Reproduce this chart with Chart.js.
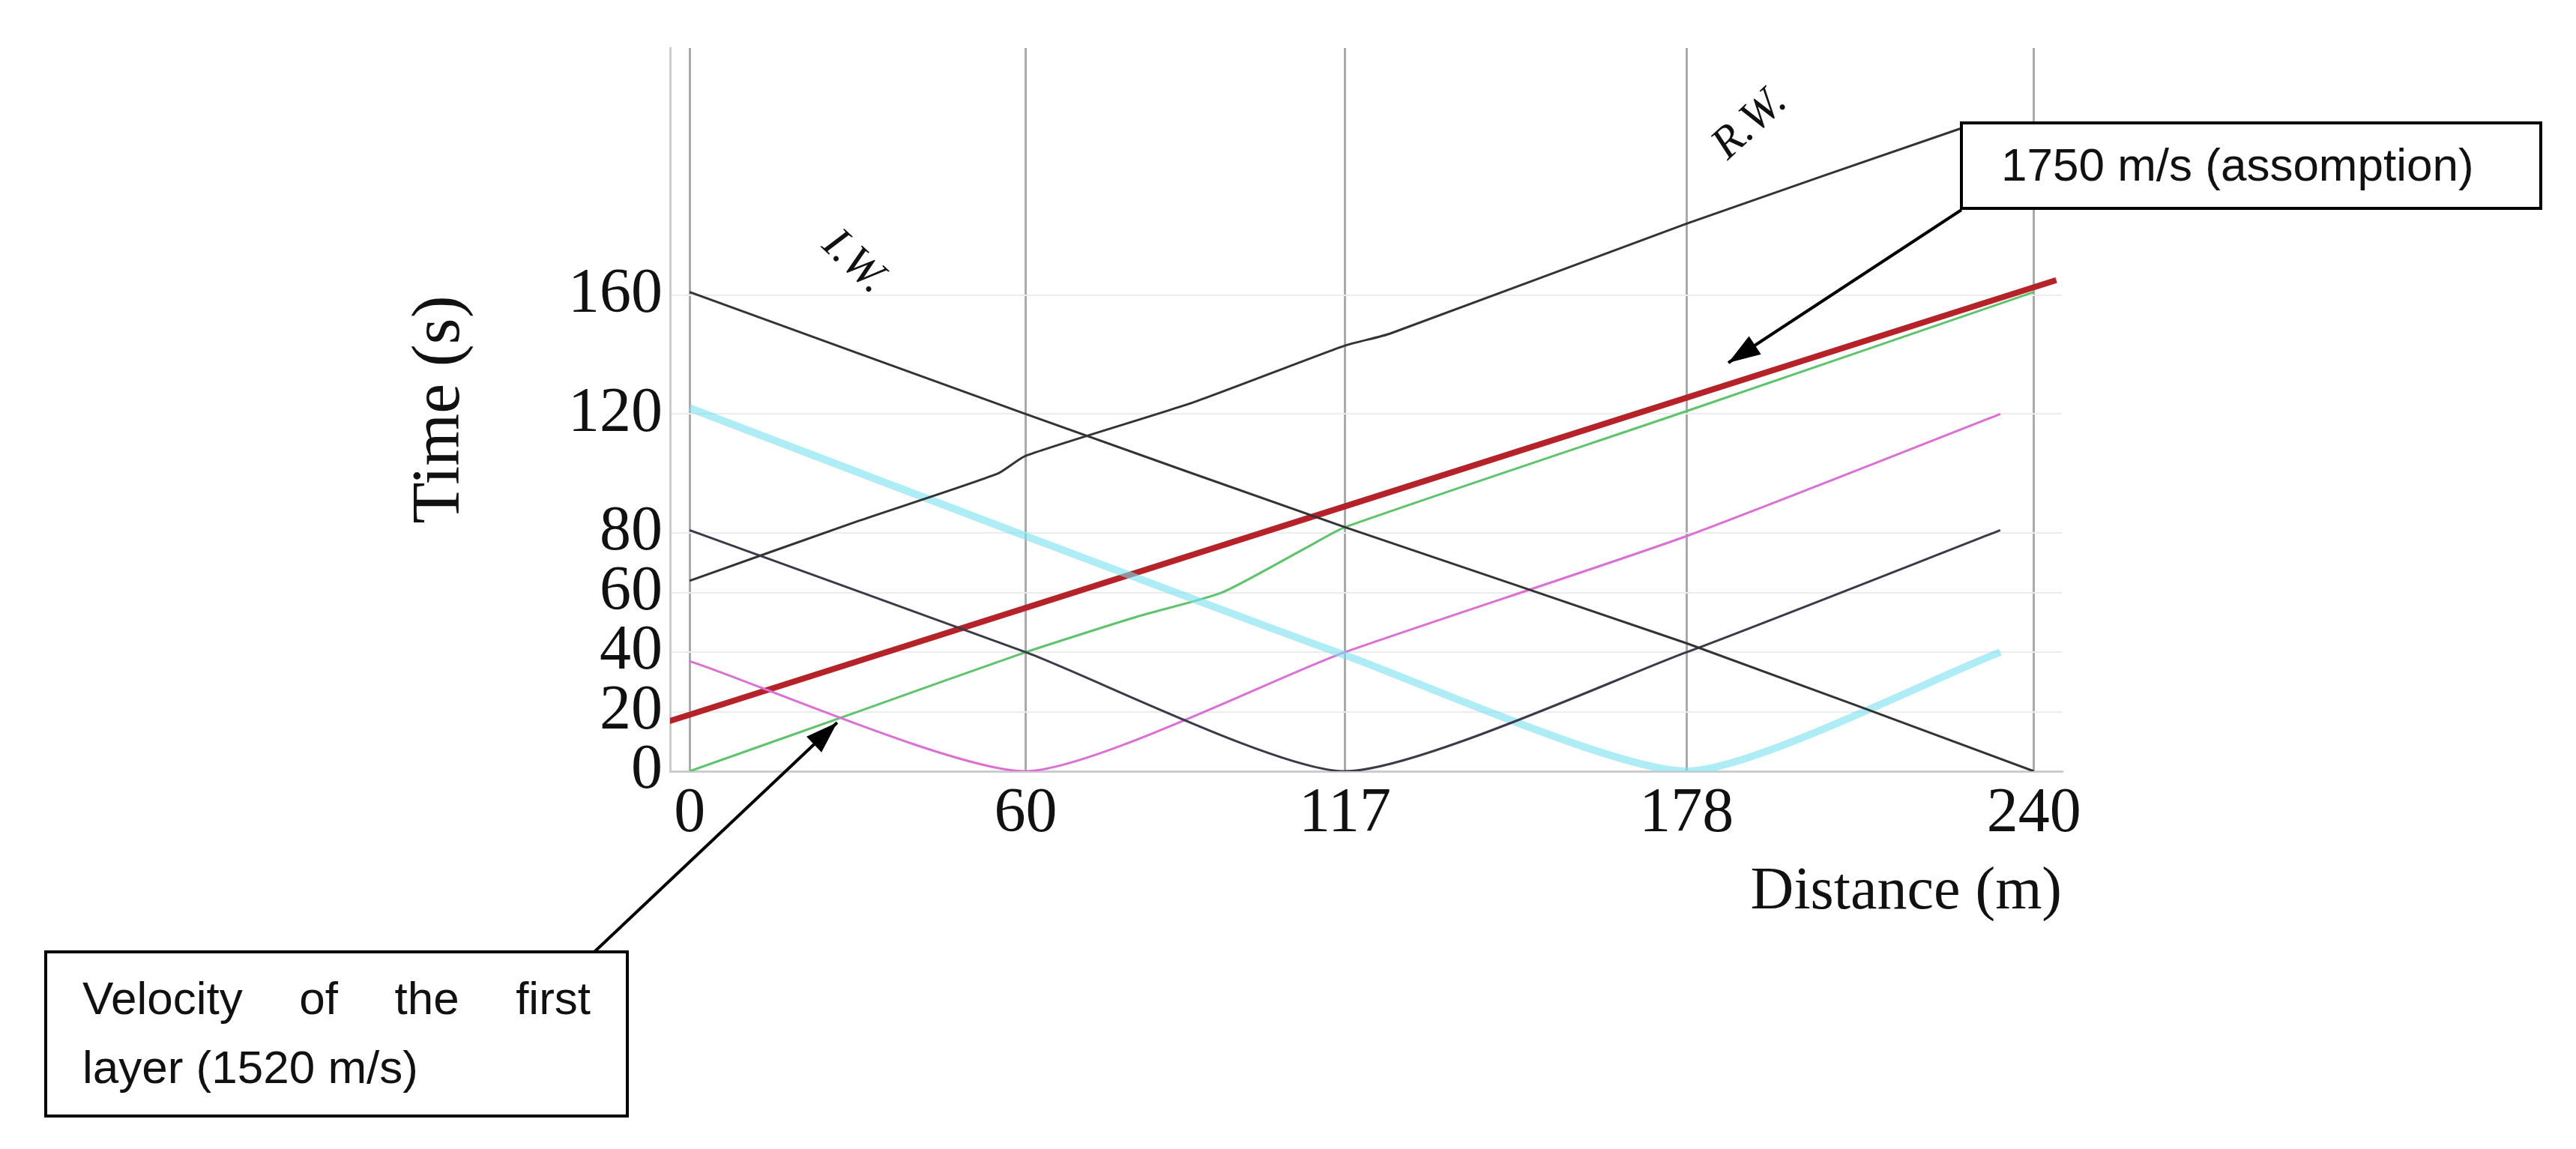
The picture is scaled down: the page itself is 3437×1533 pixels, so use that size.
<!DOCTYPE html>
<html lang="en">
<head>
  <meta charset="UTF-8" />
  <title>Time - Distance</title>
  <script src="https://cdn.jsdelivr.net/npm/chart.js"></script>
  <style>
    html, body { margin: 0; padding: 0; background: #fff; }
    #wrap { width: 3437px; height: 1533px; }
  </style>
</head>
<body>
  <div id="wrap"><canvas id="grafico"></canvas></div>

  <script>
    // tick labels
    const xTicks = [0, 60, 117, 178, 240];
    const yTicks = [0, 20, 40, 60, 80, 120, 160];

    // series (distance m / time s)
    const redX = [-5, 244];
    const redY = [16, 165];
    const rwX = [0, 30, 55, 60, 90, 117, 125, 178, 227];
    const rwY = [64, 84, 100, 106, 124, 143, 147, 184, 216];
    const iwX = [0, 60, 117, 178, 240];
    const iwY = [161, 120, 82, 43, 0];
    const cyanX = [0, 60, 117, 178, 234];
    const cyanY = [122, 79, 39, 0, 40];
    const vX = [0, 60, 117, 178, 234];
    const vY = [81, 40, 0, 40, 81];
    const magX = [0, 60, 117, 178, 234];
    const magY = [37, 0, 40, 79, 120];
    const greenX = [0, 30, 60, 80, 95, 110, 117, 178, 240];
    const greenY = [0, 20, 40, 52, 60, 75, 82, 121, 161];

    function pts(xs, ys) {
      return xs.map((x, i) => ({ x: x, y: ys[i] }));
    }

    function serie(xs, ys, cor, largura) {
      return {
        data: pts(xs, ys),
        borderColor: cor,
        borderWidth: largura,
        pointRadius: 0,
        tension: 0.2,
        fill: false
      };
    }

    // boxes, arrows and the I.W. / R.W. labels
    const notas = {
      id: 'notas',
      afterDraw(chart) {
        const c = chart.ctx;
        c.save();
        c.lineWidth = 4;
        c.strokeStyle = '#000';

        function seta(x1, y1, x2, y2) {
          c.beginPath();
          c.moveTo(x1, y1);
          c.lineTo(x2, y2);
          c.stroke();
          const a = Math.atan2(y2 - y1, x2 - x1);
          c.beginPath();
          c.moveTo(x2, y2);
          c.lineTo(x2 - 45 * Math.cos(a - 0.33), y2 - 45 * Math.sin(a - 0.33));
          c.lineTo(x2 - 45 * Math.cos(a + 0.33), y2 - 45 * Math.sin(a + 0.33));
          c.closePath();
          c.fillStyle = '#000';
          c.fill();
        }

        seta(2617, 280, 2306, 484);
        seta(793, 1270, 1117, 964);

        c.fillStyle = '#fff';
        c.fillRect(2617, 164, 773, 114);
        c.strokeRect(2617, 164, 773, 114);
        c.fillRect(61, 1270, 776, 219);
        c.strokeRect(61, 1270, 776, 219);

        c.fillStyle = '#111';
        c.font = '62px "Liberation Sans", Arial, sans-serif';
        c.textBaseline = 'middle';
        c.fillText('1750 m/s (assomption)', 2670, 224);
        const palavras = ['Velocity', 'of', 'the', 'first'];
        const larg = palavras.reduce((s, p) => s + c.measureText(p).width, 0);
        const gap = (678 - larg) / (palavras.length - 1);
        let px = 110;
        palavras.forEach(p => { c.fillText(p, px, 1336); px += c.measureText(p).width + gap; });
        c.fillText('layer (1520 m/s)', 110, 1428);

        c.font = 'italic 60px "Liberation Serif", "DejaVu Serif", serif';
        c.textAlign = 'center';
        c.save();
        c.translate(1140, 350);
        c.rotate(0.75);
        c.fillText('I.W.', 0, 0);
        c.restore();
        c.save();
        c.translate(2335, 165);
        c.rotate(-0.75);
        c.fillText('R.W.', 0, 0);
        c.restore();
        c.restore();
      }
    };

    const serif = '"Liberation Serif", "DejaVu Serif", serif';

    const config = {
      type: 'line',
      data: {
        datasets: [
          serie(iwX, iwY, '#333', 3),
          serie(rwX, rwY, '#333', 3),
          serie(vX, vY, '#3a3a4a', 3),
          serie(cyanX, cyanY, 'rgba(120,225,238,0.6)', 10),
          serie(magX, magY, '#dc6fd6', 3),
          serie(greenX, greenY, '#5cc46a', 3),
          serie(redX, redY, '#b52228', 8)
        ]
      },
      options: {
        responsive: true,
        maintainAspectRatio: false,
        devicePixelRatio: 1,
        animation: false,
        layout: { padding: { left: 530, top: 64, right: 686, bottom: 290 } },
        plugins: { legend: { display: false }, tooltip: { enabled: false } },
        scales: {
          x: {
            type: 'linear',
            min: -3.5,
            max: 245,
            afterBuildTicks: ax => { ax.ticks = xTicks.map(v => ({ value: v })); },
            afterFit: ax => { ax.height = 214; },
            ticks: {
              color: '#111',
              font: { family: serif, size: 84 },
              padding: 8,
              maxRotation: 0
            },
            grid: { color: '#aaa', lineWidth: 3, drawTicks: false },
            border: { color: '#ccc', width: 3 },
            title: {
              display: true,
              text: 'Distance (m)',
              align: 'end',
              color: '#111',
              font: { family: serif, size: 80 },
              padding: { top: 10 }
            }
          },
          y: {
            type: 'linear',
            min: 0,
            max: 243,
            afterBuildTicks: ax => { ax.ticks = yTicks.map(v => ({ value: v })); },
            afterFit: ax => { ax.width = 364; },
            ticks: {
              color: '#111',
              font: { family: serif, size: 84 },
              padding: 10
            },
            grid: { color: '#ececec', lineWidth: 2, drawTicks: false },
            border: { color: '#ccc', width: 3 },
            title: {
              display: true,
              text: 'Time (s)',
              color: '#111',
              font: { family: serif, size: 90 },
              padding: { bottom: 30 }
            }
          }
        }
      },
      plugins: [notas]
    };

    new Chart(document.getElementById('grafico'), config);
  </script>
</body>
</html>
